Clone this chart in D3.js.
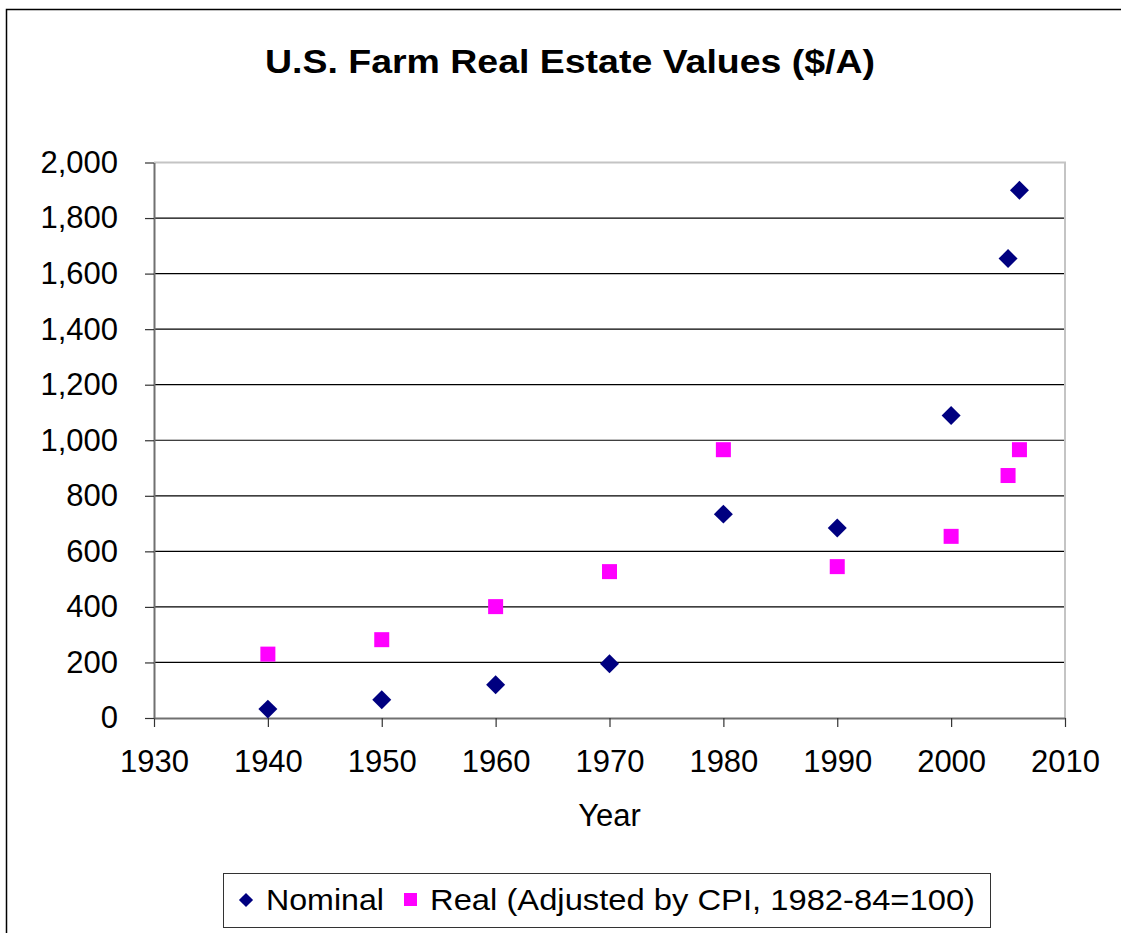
<!DOCTYPE html>
<html>
<head>
<meta charset="utf-8">
<script src="https://cdn.jsdelivr.net/npm/d3@7"></script>
<style>
  body { margin: 0; background: #fff; }
  svg text { font-family: "Liberation Sans", Arial, sans-serif; fill: #000; }
</style>
</head>
<body>
<div class="canvas"></div>
<script>
const years = [1940, 1950, 1960, 1970, 1980, 1990, 2000, 2005, 2006];
const nominal = [32, 66, 120, 195, 734, 684, 1089, 1654, 1900];
const real = [230, 282, 401, 527, 966, 545, 654, 873, 966];
const xTicks = [1930, 1940, 1950, 1960, 1970, 1980, 1990, 2000, 2010];
const yTicks = [0, 200, 400, 600, 800, 1000, 1200, 1400, 1600, 1800, 2000];

const width = 1121;
const height = 933;
const margin = { top: 162.5, right: 56, bottom: 215, left: 154 };
const graphWidth = width - margin.left - margin.right;
const graphHeight = height - margin.top - margin.bottom;

const svg = d3.select('.canvas').append('svg').attr('width', width).attr('height', height);

// outer chart frame
svg.append('rect')
  .attr('x', 6.5).attr('y', 9.5)
  .attr('width', width + 20).attr('height', height + 20)
  .attr('fill', 'none').attr('stroke', '#000').attr('stroke-width', 1.5);

svg.append('text')
  .attr('x', 570).attr('y', 73)
  .attr('text-anchor', 'middle')
  .attr('textLength', 610).attr('lengthAdjust', 'spacingAndGlyphs')
  .style('font-size', '34px').style('font-weight', 'bold')
  .text('U.S. Farm Real Estate Values ($/A)');

const graph = svg.append('g').attr('transform', `translate(${margin.left}, ${margin.top})`);

const x = d3.scaleLinear().domain([1930, 2010]).range([0, graphWidth]);
const y = d3.scaleLinear().domain([0, 2000]).range([graphHeight, 0]);

// gridlines
graph.append('g')
  .selectAll('line')
  .data(yTicks.filter(d => d > 0 && d < 2000))
  .enter().append('line')
  .attr('x1', 0).attr('x2', graphWidth)
  .attr('y1', d => y(d)).attr('y2', d => y(d))
  .attr('stroke', '#000').attr('stroke-width', 1.2);

// top and right border (light gray)
graph.append('path')
  .attr('d', `M0,${y(2000)}H${graphWidth}V${graphHeight}`)
  .attr('fill', 'none').attr('stroke', '#c4c4c4').attr('stroke-width', 2);

const xAxis = d3.axisBottom(x).tickValues(xTicks).tickFormat(d3.format('d')).tickSize(9).tickSizeOuter(0);
const yAxis = d3.axisLeft(y).tickValues(yTicks).tickFormat(d3.format(',')).tickSize(9).tickSizeOuter(0);

const xAxisGroup = graph.append('g').attr('transform', `translate(0, ${graphHeight})`).call(xAxis);
const yAxisGroup = graph.append('g').call(yAxis);

[xAxisGroup, yAxisGroup].forEach(g => {
  g.select('.domain').attr('stroke', '#707070').attr('stroke-width', 2);
  g.selectAll('.tick line').attr('stroke', '#333').attr('stroke-width', 1.2);
  g.selectAll('text').style('font-size', '31px').attr('fill', '#000');
});
xAxisGroup.selectAll('text').attr('dy', '0.71em').attr('y', 32);
yAxisGroup.selectAll('text').attr('x', -36);

graph.append('text')
  .attr('x', x(1970)).attr('y', 825.5 - margin.top)
  .attr('text-anchor', 'middle')
  .style('font-size', '31px')
  .text('Year');

const diamond = d3.symbol().type(d3.symbolSquare).size(180);

graph.selectAll('.nominal')
  .data(years.map((yr, i) => ({ year: yr, value: nominal[i] })))
  .enter().append('path')
  .attr('class', 'nominal')
  .attr('d', diamond)
  .attr('transform', d => `translate(${x(d.year)}, ${y(d.value)}) rotate(45)`)
  .attr('fill', '#000080');

graph.selectAll('.real')
  .data(years.map((yr, i) => ({ year: yr, value: real[i] })))
  .enter().append('rect')
  .attr('class', 'real')
  .attr('x', d => x(d.year) - 7.5).attr('y', d => y(d.value) - 7.5)
  .attr('width', 15).attr('height', 15)
  .attr('fill', '#ff00ff');

// legend
const legend = svg.append('g');
legend.append('rect')
  .attr('x', 223.5).attr('y', 873.5).attr('width', 767).attr('height', 54)
  .attr('fill', '#fff').attr('stroke', '#333').attr('stroke-width', 1);

legend.append('path')
  .attr('d', d3.symbol().type(d3.symbolSquare).size(100))
  .attr('transform', 'translate(246, 900) rotate(45)')
  .attr('fill', '#000080');
legend.append('text')
  .attr('x', 266).attr('y', 910)
  .attr('textLength', 118).attr('lengthAdjust', 'spacingAndGlyphs')
  .style('font-size', '30px')
  .text('Nominal');

legend.append('rect')
  .attr('x', 404).attr('y', 893).attr('width', 13).attr('height', 13)
  .attr('fill', '#ff00ff');
legend.append('text')
  .attr('x', 430).attr('y', 910)
  .attr('textLength', 545).attr('lengthAdjust', 'spacingAndGlyphs')
  .style('font-size', '30px')
  .text('Real (Adjusted by CPI, 1982-84=100)');
</script>
</body>
</html>
